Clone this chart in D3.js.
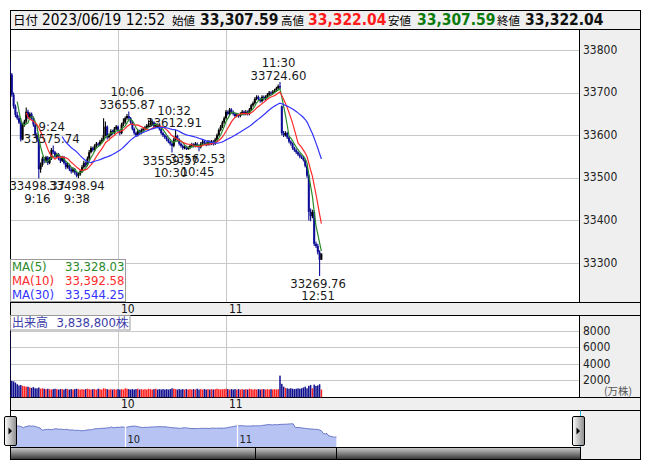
<!DOCTYPE html>
<html><head><meta charset="utf-8">
<script src="https://cdn.jsdelivr.net/npm/d3@7"></script>
<style>
body{margin:0;background:#fff}
svg{display:block}
text{font-family:"DejaVu Sans Condensed","DejaVu Sans",sans-serif}
.cjk{font-family:"Noto Sans CJK JP",sans-serif}
</style>
</head><body>
<svg id="c" width="653" height="470"></svg>
<script>
// ---------------- data ----------------
const headerDate = "2023/06/19 12:52";
const headerLabels = ["始値","高値","安値","終値"];
const headerValues = ["33,307.59","33,322.04","33,307.59","33,322.04"];
// 1-minute candles [open, high, low, close], 9:00-11:30 then 12:30-12:52
const ohlc = [
[33775,33780,33738,33742],[33742,33746,33690,33695],[33695,33700,33662,33668],[33668,33672,33642,33648],[33648,33655,33636,33640],
[33640,33646,33626,33630],[33630,33640,33585,33590],[33590,33628,33588,33625],[33625,33636,33620,33632],[33632,33665,33628,33655],
[33655,33660,33638,33642],[33642,33654,33638,33650],[33650,33653,33636,33640],[33640,33644,33620,33625],[33625,33628,33596,33600],
[33600,33606,33586,33590],[33590,33595,33498.37,33520],[33520,33536,33512,33530],[33530,33550,33526,33545],[33545,33549,33534,33540],
[33540,33552,33536,33548],[33548,33551,33530,33535],[33535,33549,33532,33545],[33545,33570,33542,33565],[33565,33575.74,33556,33560],
[33560,33563,33546,33550],[33550,33559,33546,33555],[33555,33558,33541,33545],[33545,33549,33535,33540],[33540,33552,33537,33548],
[33548,33551,33531,33535],[33535,33539,33520,33525],[33525,33535,33522,33530],[33530,33533,33516,33520],[33520,33524,33510,33515],
[33515,33525,33512,33520],[33520,33523,33507,33512],[33512,33515,33501,33505],[33505,33512,33498.94,33508],[33508,33519,33505,33515],
[33515,33530,33512,33525],[33525,33540,33522,33535],[33535,33538,33526,33530],[33530,33550,33527,33545],[33545,33565,33542,33560],
[33560,33574,33557,33570],[33570,33573,33561,33565],[33565,33579,33562,33575],[33575,33584,33571,33580],[33580,33583,33574,33578],
[33578,33589,33575,33585],[33585,33594,33582,33590],[33590,33640,33587,33600],[33600,33632,33597,33620],[33620,33623,33590,33595],
[33595,33604,33592,33600],[33600,33614,33597,33610],[33610,33613,33601,33605],[33605,33619,33602,33615],[33615,33624,33612,33620],
[33620,33623,33606,33610],[33610,33613,33600,33605],[33605,33629,33602,33625],[33625,33640,33621,33630],[33630,33644,33627,33640],
[33640,33650,33636,33645],[33645,33655.87,33636,33640],[33640,33643,33626,33630],[33630,33633,33611,33615],[33615,33618,33601,33605],
[33605,33608,33596,33600],[33600,33614,33597,33610],[33610,33613,33601,33605],[33605,33616,33602,33612],[33612,33619,33609,33615],
[33615,33622,33612,33618],[33618,33626,33615,33622],[33622,33635,33619,33625],[33625,33640,33622,33628],[33628,33634,33624,33630],
[33630,33633,33616,33620],[33620,33629,33617,33625],[33625,33628,33618,33622],[33622,33625,33611,33615],[33615,33618,33601,33605],
[33605,33608,33596,33600],[33600,33603,33591,33595],[33595,33598,33586,33590],[33590,33593,33581,33585],[33585,33588,33576,33580],
[33580,33584,33559.37,33575],[33575,33594,33572,33590],[33590,33612.91,33587,33598],[33598,33601,33586,33590],[33590,33593,33576,33580],
[33580,33583,33571,33575],[33575,33578,33566,33570],[33570,33576,33567,33572],[33572,33575,33565,33568],[33568,33574,33565,33570],
[33570,33579,33567,33575],[33575,33582,33572,33578],[33578,33581,33571,33575],[33575,33584,33572,33580],[33580,33583,33571,33575],
[33575,33578,33562.53,33572],[33572,33584,33569,33580],[33580,33589,33577,33585],[33585,33588,33578,33582],[33582,33585,33574,33578],
[33578,33589,33575,33585],[33585,33588,33576,33580],[33580,33589,33577,33585],[33585,33588,33576,33580],[33580,33594,33577,33590],
[33590,33604,33587,33600],[33600,33616,33597,33612],[33612,33624,33609,33620],[33620,33634,33617,33630],[33630,33644,33627,33640],
[33640,33659,33637,33655],[33655,33658,33646,33650],[33650,33664,33647,33660],[33660,33663,33651,33655],[33655,33658,33646,33650],
[33650,33653,33641,33645],[33645,33652,33642,33648],[33648,33651,33641,33645],[33645,33654,33642,33650],[33650,33659,33647,33655],
[33655,33658,33646,33650],[33650,33659,33647,33655],[33655,33658,33646,33650],[33650,33664,33647,33660],[33660,33674,33657,33670],
[33670,33679,33667,33675],[33675,33689,33672,33685],[33685,33694,33682,33690],[33690,33693,33681,33685],[33685,33688,33676,33680],
[33680,33694,33677,33690],[33690,33693,33681,33685],[33685,33694,33682,33690],[33690,33699,33687,33695],[33695,33704,33692,33700],
[33700,33703,33694,33698],[33698,33706,33695,33702],[33702,33709,33699,33705],[33705,33714,33702,33710],[33710,33719,33707,33715],
[33715,33724.60,33708,33712],
[33668,33670,33600,33605],[33605,33610,33596,33600],[33600,33609,33597,33605],[33605,33608,33591,33595],[33595,33598,33581,33585],
[33585,33588,33576,33580],[33580,33583,33566,33570],[33570,33573,33561,33565],[33565,33568,33556,33560],[33560,33563,33551,33555],
[33555,33558,33546,33550],[33550,33553,33544,33548],[33548,33551,33538,33542],[33542,33545,33524,33528],[33528,33531,33500,33505],
[33505,33508,33400,33420],[33420,33428,33398,33410],[33410,33425,33405,33420],[33420,33423,33340,33345],[33345,33350,33335,33340],
[33340,33345,33320,33325],[33325,33330,33269.76,33307.59],[33307.59,33322.04,33307.59,33322.04]
];
// volume per minute (万株)
const volumes = [
7950,1900,1850,1700,1500,1350,1400,1300,1250,1200,
1200,1100,1050,1150,1000,1000,1100,950,1000,950,
900,950,900,850,900,950,900,850,900,900,
850,950,900,850,900,850,900,950,900,850,
900,850,900,950,900,850,900,900,850,950,
900,850,1000,950,900,850,900,850,900,850,
900,850,900,850,1000,950,900,850,900,850,
900,950,850,900,850,900,850,950,900,850,
900,950,850,900,850,900,850,900,850,900,
1000,950,900,850,900,850,900,850,900,850,
900,850,900,850,950,850,900,850,900,850,
900,850,900,850,900,950,900,850,900,900,
950,900,850,900,850,900,850,900,850,900,
850,900,850,950,900,850,900,850,900,850,
900,900,850,900,850,900,850,900,850,900,
2550,1550,1200,1050,1000,950,1000,950,900,950,
1000,950,1000,1100,1200,1000,1300,1400,1000,1450,
1300,1350,1500,850
];
const volumeTitle = "出来高";
const volumeText = "3,838,800株";
const maPeriods = [5,10,30];
const maNames = ["MA(5)","MA(10)","MA(30)"];
const maLegendValues = ["33,328.03","33,392.58","33,544.25"];
const priceTicks = [33300,33400,33500,33600,33700,33800];
const volTicks = [2000,4000,6000,8000];
const hourTimes = ["10:00","11:00"];
const hourLabels = ["10","11"];
const pivotTimes = ["9:16","9:24","9:38","10:06","10:30","10:32","10:45","11:30","12:51"];
const pivotValues = [33498.37,33575.74,33498.94,33655.87,33559.37,33612.91,33562.53,33724.60,33269.76];
const pivotKinds = ["low","high","low","high","low","high","low","high","low"];

// ---------------- helpers ----------------
function slotOf(t){const [h,m]=t.split(":").map(Number);const mm=h*60+m;return mm<=690?mm-540:151+(mm-750);}
const closes = ohlc.map(d=>d[3]);
function movingAvg(n){return closes.map((c,i)=>i<n-1?null:d3.mean(closes.slice(i-n+1,i+1)));}

// ---------------- styles / layout ----------------
const maColors = ["#2a8a2a","#ff2a2a","#3434ff"];
const upColor="#000", downColor="#0c0c96";
const volUp="#ff2020", volDown="#10108e";
const grid="#c8c8c8", panel="#efefef";
const L=10.5, R=640.5, AX=579.5;
const T0=10.5, T1=29.5, M1=302.5, S1=315.5, V1=397.5, S2=410.5, NB=447.5, B=459.5;

const svg = d3.select("#c");
const x = d3.scaleLinear().domain([0,60]).range([10,118]);
const y = d3.scaleLinear().domain([33300,33800]).range([263,50]);
const yv = d3.scaleLinear().domain([0,8000]).range([396.5,331]);
const xn = d3.scaleLinear().domain([0,60]).range([12,124.5]);
const yn = d3.scaleLinear().domain([33000,34100]).range([NB,411]);

const defs = svg.append("defs");
defs.append("clipPath").attr("id","cm").append("rect").attr("x",L).attr("y",T1).attr("width",AX-L).attr("height",M1-T1);
defs.append("clipPath").attr("id","cv").append("rect").attr("x",L).attr("y",S1).attr("width",AX-L).attr("height",V1-S1);
const g1 = defs.append("linearGradient").attr("id","sb").attr("x1",0).attr("y1",0).attr("x2",0).attr("y2",1);
g1.append("stop").attr("offset","0%").attr("stop-color","#cfcfcf");
g1.append("stop").attr("offset","100%").attr("stop-color","#333");
const g2 = defs.append("linearGradient").attr("id","hd").attr("x1",0).attr("y1",0).attr("x2",1).attr("y2",0);
g2.append("stop").attr("offset","0%").attr("stop-color","#fdfdfd");
g2.append("stop").attr("offset","100%").attr("stop-color","#8a8a8a");

// panels
function box(x0,y0,x1,y1,fill){svg.append("rect").attr("x",x0).attr("y",y0).attr("width",x1-x0).attr("height",y1-y0).attr("fill",fill).attr("stroke","#000").attr("stroke-width",1);}
box(L,T0,R,T1,panel);
box(L,T1,AX,M1,"#fff");
box(AX,T1,R,M1,panel);
box(L,M1,R,S1,panel);
box(L,S1,AX,V1,"#fff");
box(AX,S1,R,V1,panel);
box(L,V1,R,S2,panel);
box(L,S2,580.5,NB,"#fff");
box(580.5,S2,R,B,panel);

// header
const ht = svg.append("g");
ht.append("text").attr("class","cjk").attr("x",13).attr("y",25).attr("font-size",12.5).text("日付");
ht.append("text").attr("x",42).attr("y",25).attr("font-size",15.3).text(headerDate);
const hx=[172,281,388,497], vx=[200,308,417,525], vcol=["#111","#ff1a1a","#0b7a0b","#111"];
headerLabels.forEach((lab,k)=>{
  ht.append("text").attr("class","cjk").attr("x",hx[k]).attr("y",25).attr("font-size",11.5).text(lab);
  ht.append("text").attr("x",vx[k]).attr("y",25).attr("font-size",15.5).attr("font-weight","bold").attr("fill",vcol[k]).text(headerValues[k]);
});

// main grid
const gm = svg.append("g");
priceTicks.forEach(v=>{
  gm.append("line").attr("x1",L+0.5).attr("x2",AX-0.5).attr("y1",Math.round(y(v))+0.5).attr("y2",Math.round(y(v))+0.5).attr("stroke",grid);
  svg.append("text").attr("x",583).attr("y",y(v)+3.5).attr("font-size",12).attr("fill","#222").text(v);
});
hourTimes.forEach((t,k)=>{
  const px=Math.round(x(slotOf(t)))+0.5;
  gm.append("line").attr("x1",px).attr("x2",px).attr("y1",T1+0.5).attr("y2",M1-0.5).attr("stroke",grid);
  gm.append("line").attr("x1",px).attr("x2",px).attr("y1",S1+0.5).attr("y2",V1-0.5).attr("stroke",grid);
  svg.append("text").attr("x",px+2.5).attr("y",313).attr("font-size",12).attr("fill","#111").text(hourLabels[k]);
  svg.append("text").attr("x",px+2.5).attr("y",408).attr("font-size",12).attr("fill","#111").text(hourLabels[k]);
});

// candles
const gc = svg.append("g").attr("clip-path","url(#cm)");
ohlc.forEach((d,i)=>{
  const [o,h,l,c]=d; const up=c>=o; const col=up?upColor:downColor; const px=x(i);
  gc.append("line").attr("x1",px).attr("x2",px).attr("y1",y(h)).attr("y2",y(l)).attr("stroke",col).attr("stroke-width",1.1);
  const yt=y(Math.max(o,c)), yb=y(Math.min(o,c));
  gc.append("rect").attr("x",px-1).attr("width",2).attr("y",yt).attr("height",Math.max(1,yb-yt)).attr("fill",col);
});
// moving averages
maPeriods.forEach((n,k)=>{
  const vals = movingAvg(n);
  const line = d3.line().defined(v=>v!=null).x((v,i)=>x(i)).y(v=>y(v));
  gc.append("path").attr("d",line(vals)).attr("fill","none").attr("stroke",maColors[k]).attr("stroke-width",1.2);
});
// pivot labels
pivotTimes.forEach((t,k)=>{
  const i=slotOf(t), v=pivotValues[k], px=x(i)-1.5, py=y(v);
  const lines = pivotKinds[k]==="high"?[t,v.toFixed(2)]:[v.toFixed(2),t];
  const y0 = pivotKinds[k]==="high"? py-15 : py+12;
  lines.forEach((s,j)=>svg.append("text").attr("x",px).attr("y",y0+j*12.5).attr("text-anchor","middle").attr("font-size",13).attr("fill","#1a1a1a").text(s));
});
// MA legend
svg.append("rect").attr("x",L).attr("y",259.5).attr("width",115).attr("height",42).attr("fill","#fff").attr("stroke","#9a9a9a");
maNames.forEach((nm,k)=>{
  svg.append("text").attr("x",12).attr("y",270.5+k*14).attr("font-size",13).attr("fill",maColors[k]).text(nm);
  svg.append("text").attr("x",124.5).attr("y",270.5+k*14).attr("text-anchor","end").attr("font-size",13).attr("fill",maColors[k]).text(maLegendValues[k]);
});

// volume
volTicks.forEach(v=>{
  const py=Math.round(yv(v))+0.5;
  svg.append("line").attr("x1",L+0.5).attr("x2",AX-0.5).attr("y1",py).attr("y2",py).attr("stroke",grid);
  svg.append("text").attr("x",583).attr("y",yv(v)+4).attr("font-size",12).attr("fill","#222").text(v);
});
svg.append("text").attr("class","cjk").attr("x",632).attr("y",395).attr("text-anchor","end").attr("font-size",10.5).attr("fill","#555").text("(万株)");
const gv = svg.append("g").attr("clip-path","url(#cv)");
volumes.forEach((v,i)=>{
  const d=ohlc[i]; const up=d[3]>=d[0];
  gv.append("rect").attr("x",x(i)-0.75).attr("width",1.5).attr("y",yv(v)).attr("height",V1-yv(v)).attr("fill",up?volUp:volDown);
});
svg.append("rect").attr("x",L).attr("y",S1).attr("width",119.5).attr("height",14.5).attr("fill","#fff").attr("stroke","#9a9a9a");
svg.append("text").attr("class","cjk").attr("x",12).attr("y",327).attr("font-size",12).attr("fill","#3c3ca8").text(volumeTitle);
svg.append("text").attr("x",129).attr("y",327).attr("text-anchor","end").attr("font-size",13).attr("fill","#3c3ca8").text(volumeText);

// navigator
const area = d3.area().x((v,i)=>xn(i)).y0(NB).y1(v=>yn(v));
svg.append("path").attr("d",area(closes)).attr("fill","#b6c3f3");
svg.append("path").attr("d",d3.line().x((v,i)=>xn(i)).y(v=>yn(v))(closes)).attr("fill","none").attr("stroke","#6a78c8").attr("stroke-width",1);
hourTimes.forEach((t,k)=>{
  const px=Math.round(xn(slotOf(t)))+0.5;
  svg.append("line").attr("x1",px).attr("x2",px).attr("y1",S2+0.5).attr("y2",NB).attr("stroke","#fff").attr("stroke-width",1.2);
  svg.append("text").attr("x",px+2).attr("y",443).attr("font-size",11).attr("fill","#222").text(hourLabels[k]);
});
svg.append("line").attr("x1",580.5).attr("x2",580.5).attr("y1",S2).attr("y2",NB).attr("stroke","#2bb5e0");
// scrollbar
svg.append("rect").attr("x",L).attr("y",NB).attr("width",580.5-L).attr("height",B-NB).attr("fill","url(#sb)").attr("stroke","#000");
[255.5,336.5].forEach(px=>svg.append("line").attr("x1",px).attr("x2",px).attr("y1",NB).attr("y2",B).attr("stroke","#000"));
// handles
[4.5,572.5].forEach(hx0=>{
  svg.append("rect").attr("x",hx0).attr("y",416.5).attr("width",12).attr("height",29).attr("rx",1.5).attr("fill","url(#hd)").attr("stroke","#000");
  svg.append("path").attr("d",`M${hx0+4},${427.5}L${hx0+7.5},${431}L${hx0+4},${434.5}Z`).attr("fill","#000");
});
</script>
</body></html>
